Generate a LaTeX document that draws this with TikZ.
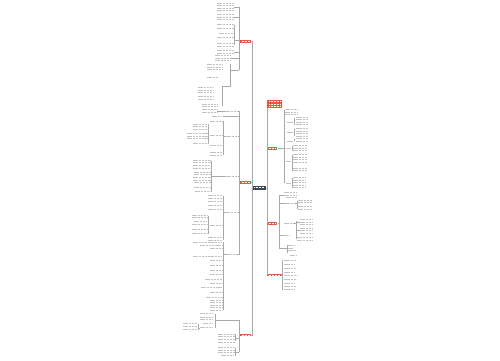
\documentclass[tikz,border=0pt]{standalone}
\definecolor{redc}{HTML}{E8573E}
\definecolor{darkc}{HTML}{3D4957}
\newcommand{\txl}[3]{\draw[txt] (#1,#2) -- ++(#3,0);}
\newcommand{\txb}[4]{\foreach \k in {1,...,#4}{\draw[txt] ({#1},{#2+(\k-1)*2.5}) -- ++(#3,0);}}
\newcommand{\hln}[3]{\draw[ln] (#1,#3) -- (#2,#3);}
\newcommand{\vln}[3]{\draw[ln] (#1,#2) -- (#1,#3);}
\begin{document}
\begin{tikzpicture}[x=1pt,y=-1pt,
 ln/.style={draw=black!34,line width=0.38pt},
 txt/.style={draw=black!24,line width=0.8pt,dash pattern=on 1.1pt off 0.35pt},
 wtxt/.style={draw=white,line width=0.7pt,dash pattern=on 1.2pt off 0.3pt},
 redbox/.style={fill=redc,inner sep=0pt,draw=none},
 darkbox/.style={fill=darkc,inner sep=0pt,draw=none}]
\useasboundingbox[fill=white] (0,0) rectangle (500,360);

% ---------- main nodes ----------
\node[darkbox,minimum width=14pt,minimum height=3.6pt] (C) at (259,187.8) {};
\draw[wtxt] (254,187.8) -- (264,187.8);
\node[redbox,minimum width=11pt,minimum height=2.6pt] (L1) at (245.5,41.2) {};
\node[redbox,minimum width=11pt,minimum height=2.6pt] (L2) at (245.5,182.4) {};
\node[redbox,minimum width=11pt,minimum height=2.6pt] (L3) at (245.5,335) {};
\foreach \yy in {41.2,182.4,335} \draw[wtxt] (241.5,\yy) -- (249.5,\yy);
\node[redbox,minimum width=15pt,minimum height=8pt] (T) at (274.5,104) {};
\foreach \yy in {101.8,104,106.2} \draw[wtxt] (269,\yy) -- (280,\yy);
\node[redbox,minimum width=10.5pt,minimum height=2.6pt] (R1) at (272.2,148.2) {};
\node[redbox,minimum width=10.5pt,minimum height=2.6pt] (R2) at (272.2,223.6) {};
\node[redbox,minimum width=15pt,minimum height=2.6pt] (R3) at (274.5,275) {};
\draw[wtxt] (268.5,148.2) -- (276,148.2);
\draw[wtxt] (268.5,223.6) -- (276,223.6);
\draw[wtxt] (268.5,275) -- (280.5,275);

% ---------- trunks ----------
\coordinate (T1) at (252,41.2);
\coordinate (T3) at (252,335);
\draw[ln] (L1.east) -- (T1) -- (T3) -- (L3.east);
\draw[ln] (L2.east) -- (L2.east -| T1);
\draw[ln] (T.south west) -- (R3.west);
\draw[ln] (C.east) -- (C.east -| T.west);

% ---------- left branch 1 ----------
\vln{239}{7}{70}
\txb{217}{3}{16}{4} \hln{233.5}{239}{7}
\txb{217}{14.5}{16}{3} \hln{233.5}{239}{17}
\vln{234.5}{24.5}{45} \hln{234.5}{239}{40}
\txl{217}{24.5}{16.5} \txl{217}{28.8}{16.5} \txl{219}{33}{14.5} \txl{217}{37.5}{16.5} \txb{217}{43.5}{16.5}{2}
\txb{217}{50.5}{16}{2} \hln{233.5}{239}{51.8}
\txb{215}{55.8}{15}{3} \hln{230.5}{239}{58.3}
\vln{230.5}{64}{86} \hln{230.5}{239}{70}
\txb{207}{64.5}{15}{3}
\txl{207}{77.5}{11}
\hln{222.5}{230.5}{86} \vln{222.5}{86}{106}
\txb{198}{87.5}{15}{3} \txb{198}{96.5}{15}{2} \txb{202}{104}{15}{3}

% ---------- left branch 2 ----------
\vln{239.5}{111}{254}
\txl{225}{111}{13} \hln{238}{239.5}{111} \txb{202}{109.8}{15}{2} \hln{217}{224.5}{111}
\txl{212}{116}{10} \hln{222.5}{239.5}{116}
\txl{224.5}{136}{13.5} \hln{238}{239.5}{136} \vln{223}{121}{155} \hln{223}{224.5}{136}
\txl{210}{121}{12}
\txl{210}{135}{12} \vln{208.5}{125}{143}
\txb{193}{124}{15}{3} \txb{187}{133.5}{21}{3} \txl{193}{143}{15}
\txl{209.5}{145.5}{13}
\txb{209.5}{152.5}{13}{2}
\txl{224.5}{176}{13.5} \hln{238}{239.5}{176} \hln{212}{224.5}{176}
\vln{211.5}{160.5}{191}
\txb{193}{160}{18}{2} \txb{193}{165.5}{17}{2} \txb{194}{172}{17}{2} \txb{193}{177.5}{18}{2}
\txl{194}{182.5}{17} \txl{194}{187}{17} \txl{195}{191}{16}
\txl{225}{212}{13} \hln{238}{239.5}{212} \hln{223}{225}{212}
\vln{223}{195.5}{240}
\txb{208}{195.5}{14}{2} \txl{208}{201}{14} \txl{208}{205}{14} \txl{208}{209}{14}
\txl{210}{225}{12} \vln{208}{215.5}{234}
\txb{192}{215}{15}{2} \txl{194}{221}{13} \txl{192}{224.5}{15} \txl{192}{229}{15} \txl{192}{233}{15}
\txb{208}{237.5}{14}{2}
\txl{227}{254}{11} \hln{238}{239.5}{254} \hln{223}{227}{254}
\vln{223}{242}{310}
\foreach \yy/\ww in {242.5/29,245/22,248/12,256/29,260.5/12,265/12,270/12,274/12,279/17,283/12,287/21,292/12,297/16,300/12,302.5/12,305/12,307.5/12,310/12}
  \draw[txt] ({222-\ww},\yy) -- (222,\yy);

% ---------- left branch 3 ----------
\vln{239}{320}{352}
\hln{215}{239}{320} \vln{215}{313.5}{328}
\txl{200}{313.5}{13} \txb{200}{317}{13}{2} \txl{203}{323}{10} \txl{200}{327.8}{13}
\vln{198}{323.5}{330} \hln{198}{200}{327.8}
\txb{183}{323.5}{14}{2} \txl{183}{329.8}{14}
\hln{235}{239}{338} \vln{235}{334}{341} \txb{218}{334}{16}{2} \txb{218}{339.5}{16}{2}
\hln{235}{239}{352} \vln{235}{348}{356} \txb{218}{347.5}{16}{3} \txl{221}{355.5}{13}

% ---------- right branch 1 ----------
\draw[ln] (R1.east) -- (284,148.2);
\vln{284}{110}{183}
\txb{285}{109.5}{13}{3}
\txl{286.5}{122}{6.5} \vln{294.5}{117.5}{125} \txb{295.5}{117}{12}{4}
\txl{286.5}{132}{6.5} \vln{294.5}{128.5}{136} \txb{295.5}{128.5}{12}{4}
\txl{286.5}{141}{6.5} \vln{294.5}{138.5}{141} \txb{295.5}{138.5}{12}{2}
\txl{285.5}{148.2}{5.5} \vln{292}{145.5}{151} \txb{293}{145.5}{14}{3}
\txl{285.5}{161}{5.5} \vln{292}{154.5}{171} \txb{293}{154.5}{14}{4} \txb{293}{168}{14}{2}
\txl{285.5}{183}{5.5} \vln{292}{177.5}{188} \txb{293}{177.5}{12}{5}

% ---------- right branch 2 ----------
\draw[ln] (R2.east) -- (279,223.6);
\vln{279}{195.5}{248}
\txb{284}{192.5}{13}{2} \hln{279}{284}{195} \txl{286}{197.5}{11}
\txl{285}{203.5}{9} \hln{279}{285}{203.5} \vln{297}{200.5}{208.5} \hln{294.5}{297}{203.5}
\txb{298}{200}{14}{2} \txb{298}{206.5}{14}{2}
\txl{284}{223.6}{9} \vln{296}{220.5}{239} \hln{293}{296}{223.6}
\txb{300}{219.5}{13}{3} \hln{296}{300}{222}
\txb{300}{228}{13}{3} \hln{296}{300}{230.5}
\txb{297}{237.5}{15}{2}
\txl{283}{235}{7} \hln{279}{283}{235}
\vln{287}{244.5}{253} \hln{279}{287}{248}
\txl{288}{245}{6} \txl{288}{248}{5} \txl{288}{250.5}{8} \txl{290}{255.5}{6}

% ---------- right branch 3 ----------
\draw[ln] (R3.east) -- (282.5,275);
\vln{282.5}{259.5}{289.5}
\foreach \yy/\ww in {260/12,264/11,268/12,272/11,275.2/14,279/12,283/11,286.5/12,289.5/11}
  \draw[txt] (283.5,\yy) -- ++(\ww,0);
\end{tikzpicture}
\end{document}
